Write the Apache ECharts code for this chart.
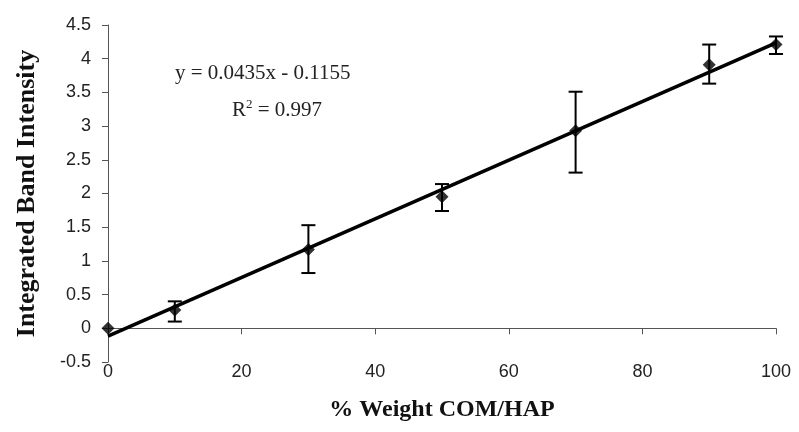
<!DOCTYPE html>
<html lang="en">
<head>
    <meta charset="UTF-8">
    <title>Integrated Band Intensity</title>
    <script src="https://cdn.jsdelivr.net/npm/echarts@6/dist/echarts.min.js"></script>
    <style>
        html, body { margin: 0; padding: 0; background: #fff; }
        #main { width: 799px; height: 432px; }
    </style>
</head>
<body>
    <div id="main"></div>
    <script>
        // 数据
        var weight = [0, 10, 30, 50, 70, 90, 100];
        var intensity = [0, 0.27, 1.17, 1.95, 2.93, 3.91, 4.21];
        var errLow = [0, 0.10, 0.82, 1.74, 2.31, 3.63, 4.07];
        var errHigh = [0, 0.40, 1.53, 2.14, 3.51, 4.21, 4.33];
        // 趋势线 y = 0.0435x - 0.1155
        var slope = 0.0435;
        var intercept = -0.1155;
        var trendX = [0, 100];

        var points = weight.map(function (x, i) { return [x, intensity[i]]; });
        var bars = [];
        weight.forEach(function (x, i) {
            if (errHigh[i] > errLow[i]) bars.push([x, errLow[i], errHigh[i]]);
        });
        var trend = trendX.map(function (x) { return [x, slope * x + intercept]; });

        var myChart = echarts.init(document.getElementById('main'));

        function renderErr(params, api) {
            var x = api.value(0);
            var lo = api.coord([x, api.value(1)]);
            var hi = api.coord([x, api.value(2)]);
            var w = 7;
            var st = { stroke: '#000', lineWidth: 2 };
            return {
                type: 'group',
                children: [
                    { type: 'line', shape: { x1: hi[0], y1: hi[1], x2: lo[0], y2: lo[1] }, style: st },
                    { type: 'line', shape: { x1: hi[0] - w, y1: hi[1], x2: hi[0] + w, y2: hi[1] }, style: st },
                    { type: 'line', shape: { x1: lo[0] - w, y1: lo[1], x2: lo[0] + w, y2: lo[1] }, style: st }
                ]
            };
        }

        var labelFont = { color: '#222', fontFamily: 'Liberation Sans', fontSize: 18 };

        var option = {
            animation: false,
            backgroundColor: '#fff',
            grid: { left: 108, right: 23, top: 25, bottom: 70 },
            xAxis: [{
                type: 'value', min: 0, max: 100, interval: 20,
                axisLine: { onZero: true, lineStyle: { color: '#555', width: 1 } },
                axisTick: { show: true, inside: false, length: 6, lineStyle: { color: '#555' } },
                axisLabel: { show: false },
                splitLine: { show: false }
            }, {
                type: 'value', min: 0, max: 100, interval: 20, position: 'bottom',
                axisLine: { show: false, onZero: false },
                axisTick: { show: false },
                axisLabel: Object.assign({ margin: 1 }, labelFont),
                splitLine: { show: false },
                name: '% Weight COM/HAP',
                nameLocation: 'middle',
                nameGap: 36,
                nameTextStyle: { fontFamily: 'Liberation Serif', fontWeight: 'bold', fontSize: 24, color: '#111' }
            }],
            yAxis: {
                type: 'value', min: -0.5, max: 4.5, interval: 0.5,
                axisLine: { show: true, onZero: false, lineStyle: { color: '#555', width: 1 } },
                axisTick: { show: true, length: 6, lineStyle: { color: '#555' } },
                axisLabel: Object.assign({ margin: 17 }, labelFont),
                splitLine: { show: false },
                name: 'Integrated Band Intensity',
                nameLocation: 'middle',
                nameGap: 68,
                nameTextStyle: { fontFamily: 'Liberation Serif', fontWeight: 'bold', fontSize: 26, color: '#111' }
            },
            graphic: [{
                type: 'text', left: 175, top: 63,
                style: { text: 'y = 0.0435x - 0.1155', font: '21px "Liberation Serif"', fill: '#222' }
            }, {
                type: 'text', left: 232, top: 98,
                style: {
                    text: '{r|R}{s|2}{r| = 0.997}',
                    rich: {
                        r: { fontFamily: 'Liberation Serif', fontSize: 21, fill: '#222', verticalAlign: 'bottom' },
                        s: { fontFamily: 'Liberation Serif', fontSize: 13, fill: '#222', verticalAlign: 'top', padding: [0, 0, 10, 0] }
                    }
                }
            }],
            series: [{
                type: 'line', data: trend, symbol: 'none',
                lineStyle: { color: '#000', width: 3.5 }, z: 3
            }, {
                type: 'custom', data: bars, renderItem: renderErr,
                encode: { x: 0, y: [1, 2] }, z: 4
            }, {
                type: 'scatter', data: points, symbol: 'diamond', symbolSize: 13,
                itemStyle: { color: '#000' }, z: 5
            }]
        };

        myChart.setOption(option);
    </script>
</body>
</html>
